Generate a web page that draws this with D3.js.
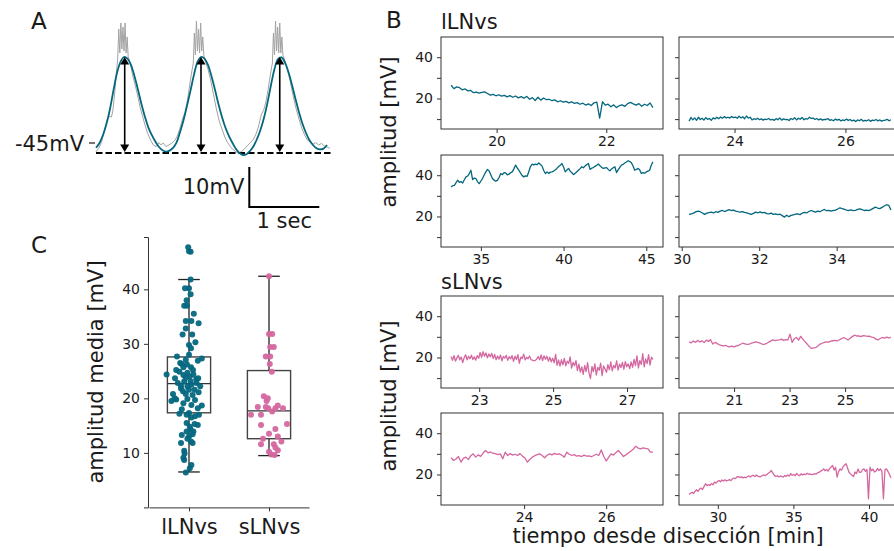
<!DOCTYPE html>
<html>
<head>
<meta charset="utf-8">
<script src="https://d3js.org/d3.v7.min.js"></script>
<style>
  body { margin: 0; background: #fff; }
  svg { display: block; font-family: "DejaVu Sans", sans-serif; }
</style>
</head>
<body>
<svg id="fig" width="894" height="551"></svg>
<script>
// ---------- Panel A: raw trace (gray) + fitted curve (teal), mV above baseline ----------
let blueStep = 0.05;
let blueV = [1.3, 2.5, 4.5, 7.3, 11, 15.7, 20, 22.8, 24, 23.6, 22.0, 19.2, 15.8, 12.2, 9.0, 6.3, 4.4, 2.8, 1.5, 0.7,
             0.35, 0.6, 1.3, 2.6, 5.2, 8.2, 11.8, 15.6, 19.6, 22.8, 24, 23.6, 22.0, 19.2, 15.8, 12.2, 9.0, 6.3, 4.2, 2.5,
             1.0, 0.0, -0.5, -0.3, 0.5, 1.7, 3.5, 5.8, 8.8, 12.6, 17, 21, 23.5, 23.9, 22.6, 20.2, 17.0, 13.5, 10.2, 7.3,
             5.0, 3.2, 2.0, 1.2, 0.9, 1.1, 2.0];
let grayT = [0, 0.04, 0.08, 0.12, 0.16, 0.19, 0.22, 0.24, 0.27, 0.29, 0.31, 0.325, 0.34, 0.355, 0.37, 0.385, 0.40, 0.415, 0.43, 0.445,
             0.46, 0.48, 0.50, 0.53, 0.56, 0.60, 0.63, 0.66, 0.70, 0.74, 0.78, 0.82, 0.86, 0.90, 0.93, 0.96, 1.00,
             1.04, 1.08, 1.12, 1.16, 1.20, 1.24, 1.27, 1.30, 1.33, 1.36, 1.39, 1.405, 1.42, 1.435, 1.45, 1.465, 1.48, 1.495, 1.51, 1.525,
             1.54, 1.56, 1.60, 1.64, 1.68, 1.72, 1.76, 1.80, 1.84, 1.88, 1.92, 1.96, 2.00, 2.04, 2.08, 2.12, 2.16,
             2.20, 2.24, 2.28, 2.32, 2.36, 2.40, 2.43, 2.46, 2.49, 2.52, 2.535, 2.55, 2.565, 2.58, 2.595, 2.61, 2.625, 2.64, 2.655,
             2.67, 2.70, 2.74, 2.78, 2.82, 2.86, 2.90, 2.94, 2.98, 3.02, 3.06, 3.10, 3.14, 3.18, 3.22, 3.26, 3.30, 3.34];
let grayV = [0.3, 1.2, 2.8, 5.6, 8.3, 9.2, 9.0, 10.5, 15.5, 20, 23.5, 31, 25, 32.5, 26, 31.5, 25.5, 32.5, 25, 29,
             24, 23, 21.5, 19, 17.0, 14, 11.5, 9.5, 7, 4.8, 3.2, 2.0, 1.6, 2.6, 2.0, 2.5, 1.6,
             2.0, 2.4, 3.0, 4.2, 6.2, 8.8, 10, 12.5, 16, 19.5, 22.5, 30, 24.5, 33, 25.5, 31, 25, 32.5, 25.5, 29,
             24.5, 23.0, 21, 18, 14.5, 11, 8, 6.0, 4, 2.6, 1.6, 0.8, 0.3, 0.0, 0.4, 1.0, 1.8,
             2.5, 3.2, 4.5, 6.5, 9.5, 11.0, 13, 16, 19.5, 22.5, 30, 24.5, 33, 25.5, 31.5, 25, 32.5, 25, 29,
             24.5, 23.0, 20.5, 17.5, 14, 11, 8.5, 6.2, 4.5, 3.2, 2.8, 2.2, 2.6, 2.0, 2.4, 1.8, 1.5, 1.2];
let arrowTimes = [0.41, 1.50, 2.625];
let arrowAmp = 24;

// ---------- Panel B: amplitude over time, one array per recording ----------
let lln1Span = [19.17, 22.85];
let lln1 = [26.4, 24.8, 25.6, 25.2, 24.2, 24.6, 23.7, 23.9, 22.8, 23.1, 22.6, 22.9, 23.2, 22.4, 21.6, 22.0, 21.3, 21.8, 21.1, 21.5,
            20.8, 21.4, 20.6, 21.2, 20.3, 20.9, 20.1, 21.0, 19.6, 20.4, 19.0, 20.6, 19.2, 20.2, 19.4, 19.6, 18.9, 19.3, 18.4, 18.9,
            18.2, 18.6, 17.9, 18.4, 17.6, 18.0, 17.2, 17.7, 16.8, 17.4, 16.6, 17.9, 18.2, 10.5, 18.4, 16.8, 17.2, 16.0, 16.9, 15.6,
            16.5, 16.9, 16.2, 17.5, 18.1, 17.4, 16.8, 17.5, 16.2, 17.2, 16.6, 17.8, 15.6];
let lln2Span = [23.18, 26.82];
let lln2 = [9.0, 10.8, 9.6, 10.6, 9.4, 10.9, 9.8, 10.4, 9.5, 10.7, 9.9, 10.3, 9.4, 10.6, 10.1, 10.9, 10.2, 11.0, 10.4, 11.2,
            10.6, 10.9, 10.5, 11.3, 10.7, 11.0, 10.4, 11.4, 10.6, 11.1, 10.2, 11.5, 10.5, 10.9, 9.6, 10.2, 9.8, 10.4, 9.7, 10.1,
            9.5, 10.0, 9.8, 10.3, 9.6, 9.9, 9.4, 10.2, 9.7, 10.6, 9.5, 10.1, 9.7, 9.9, 9.3, 10.3, 9.8, 10.7, 9.6, 10.4,
            9.9, 10.8, 9.7, 10.2, 10.0, 10.9, 10.3, 10.5, 9.8, 10.3, 9.6, 10.1, 9.5, 9.9, 9.8, 10.2, 9.4, 9.7, 9.2, 10.0,
            9.5, 9.9, 9.1, 9.6, 9.3, 10.0, 9.4, 9.8, 9.1, 9.5, 8.8, 9.6, 9.2, 9.9, 9.0, 9.4, 9.2, 9.7, 8.9, 9.5,
            9.3, 9.8, 9.1, 9.6, 9.0, 9.4, 9.5, 9.9, 9.2, 9.7];
let lln3Span = [33.2, 45.4];
let lln3 = [34.3, 34.9, 35.1, 36.4, 37.6, 36.5, 36.9, 36.2, 37.8, 39.2, 39.6, 40.8, 42.4, 37.9, 38.6, 38.4, 36.8, 35.9, 37.2, 38.4,
            40.1, 41.6, 42.8, 42.1, 40.2, 38.4, 37.6, 37.1, 37.5, 38.9, 40.8, 40.3, 41.2, 41.1, 40.2, 40.5, 41.3, 41.6, 43.2, 44.9,
            43.5, 42.4, 41.0, 39.8, 39.2, 39.7, 39.5, 41.8, 44.2, 45.4, 45.0, 45.4, 45.1, 46.0, 45.2, 44.4, 42.3, 40.8, 41.6, 40.9,
            41.5, 41.6, 42.0, 42.6, 43.3, 44.2, 44.8, 45.7, 44.0, 41.6, 42.5, 43.3, 42.0, 41.2, 40.3, 40.9, 41.7, 42.4, 43.2, 44.1,
            43.6, 44.5, 45.2, 45.7, 42.8, 43.4, 43.7, 44.3, 44.8, 45.4, 44.6, 43.9, 43.3, 43.6, 43.7, 42.8, 42.1, 43.0, 43.6, 44.1,
            41.3, 42.6, 43.8, 44.9, 45.3, 45.9, 46.4, 47.0, 46.6, 46.0, 44.5, 42.4, 42.8, 43.3, 42.6, 40.8, 41.3, 41.0, 41.6, 42.0,
            42.4, 44.8, 46.5];
let lln4Span = [30.19, 35.4];
let lln4 = [21.0, 21.3, 21.6, 22.2, 22.6, 22.3, 21.7, 21.0, 21.6, 21.9, 22.1, 21.7, 22.3, 22.0, 22.6, 22.9, 22.4, 22.8, 23.3, 22.9,
            23.1, 22.6, 22.3, 22.1, 22.4, 22.0, 21.7, 21.4, 21.0, 21.5, 22.1, 21.8, 22.2, 21.7, 22.0, 21.4, 21.3, 21.6, 21.0, 21.3,
            20.9, 21.1, 20.4, 19.7, 20.6, 19.9, 20.5, 20.8, 21.1, 21.3, 20.9, 21.6, 22.0, 21.7, 22.4, 22.9, 22.5, 22.1, 22.6, 22.3,
            22.9, 23.4, 22.8, 23.0, 22.6, 22.9, 23.1, 23.6, 24.2, 23.8, 23.5, 23.1, 22.9, 23.2, 22.8, 23.0, 23.4, 23.7, 23.3, 22.9,
            23.1, 22.8, 23.3, 23.9, 24.5, 24.1, 23.8, 24.4, 25.1, 25.7, 25.4, 23.2];
let sln1Span = [22.24, 27.7];
let sln1 = [20.5, 18.6, 20.9, 18.2, 19.8, 21.0, 18.9, 20.2, 17.5, 19.9, 21.3, 18.8, 20.6, 19.4, 21.1, 19.0, 20.3, 18.7, 20.9, 19.6,
            22.4, 20.1, 22.8, 20.6, 22.2, 19.8, 21.7, 20.3, 22.0, 19.5,
            21.5, 18.9, 20.7, 19.2, 21.2, 18.4, 20.5, 19.7, 21.0, 18.6, 20.4, 19.3, 20.9, 18.1, 20.6, 19.0, 21.4, 17.2, 20.2, 19.5,
            21.6, 18.8, 20.1, 19.4, 20.7,
            19.0, 18.7, 18.4, 18.6, 19.3, 20.4, 18.9, 21.2, 18.5, 20.8,
            19.1, 20.6, 18.2, 20.1, 17.9, 19.6, 17.4, 21.5, 16.2, 18.8,
            15.8, 18.9, 16.4, 19.6, 15.9, 18.2, 17.1, 20.3, 14.8, 17.6, 16.0, 18.5,
            13.6, 16.8, 12.9, 15.4, 11.8, 16.1, 13.2, 17.5, 12.4, 9.8, 15.6, 13.1, 16.9, 11.5, 15.2, 13.8, 17.3, 11.2, 15.9, 14.4,
            12.8, 16.5, 14.0, 17.8, 13.5, 16.2, 14.9, 18.4, 13.9, 16.8, 15.1, 17.6, 14.3, 18.0, 15.5, 16.9, 14.6, 17.9,
            15.2, 19.1, 16.0, 20.8, 14.9, 18.5, 16.6, 21.9, 15.4, 19.3, 17.0, 21.4, 16.3, 20.2, 19.0];
let sln2Span = [19.38, 26.65];
let sln2 = [27.6, 27.1, 28.0, 27.3, 28.3, 27.5, 28.1, 27.2, 28.4, 27.8, 28.6,
            26.5, 27.3, 26.8, 26.2, 25.8, 25.6, 25.9, 25.3, 25.2, 25.5, 25.1,
            25.6, 25.9, 26.4, 26.9, 26.6, 26.3, 26.5, 26.9, 27.2, 27.6, 27.3, 27.0, 26.5, 26.3, 26.8, 27.4, 27.9, 28.5, 28.2, 28.4,
            28.5, 28.9, 28.3,
            28.6, 28.5, 31.3, 27.3, 29.1, 29.7, 28.4, 30.2, 28.9, 27.6, 26.5, 25.3, 24.4, 24.6, 24.8, 25.6, 26.5, 26.9, 27.3, 27.6,
            27.4, 27.9, 28.1, 28.3, 28.0, 28.6, 29.1, 29.7, 29.2, 28.5, 29.3, 30.1, 30.8, 30.4, 30.5, 30.1, 30.6, 30.5, 30.2, 30.3,
            29.9, 29.7, 28.9, 28.5, 29.2, 29.7, 29.4, 29.9, 29.5, 29.7];
let sln3Span = [22.22, 27.14];
let sln3 = [28.1, 26.8, 27.5, 28.7, 26.0, 27.8, 28.4, 27.2, 29.1, 30.0, 28.4, 29.5, 28.8, 30.4, 31.6, 30.5, 30.9, 30.3, 30.1, 29.6,
            30.0, 27.6, 30.8, 29.2, 30.1, 29.4, 29.8, 29.2, 30.1, 28.9, 28.0, 26.0, 27.4, 28.4, 29.1, 29.6, 30.0, 29.2, 28.1, 29.3,
            30.0, 29.5, 30.2, 29.7, 30.0, 29.3, 28.4, 30.8, 29.8, 29.2, 29.6, 28.9, 29.1, 28.7, 29.4, 28.9, 29.0, 28.6, 29.2, 29.8,
            29.2, 31.9, 28.8, 26.5, 28.3, 30.0, 29.4, 30.6, 31.6, 30.2, 28.7, 29.5, 30.4, 31.3, 32.2, 33.7, 32.8, 32.4, 32.9, 32.6,
            32.4, 30.8, 30.8];
let sln4Span = [28.1, 41.45];
let sln4 = [10.3, 10.9, 11.4, 10.8, 11.9, 12.6, 11.8, 12.9, 13.4, 12.7, 14.2, 15.5, 14.6, 15.1, 14.7, 15.6, 15.0, 16.3, 15.8, 16.6,
            17.1, 16.5, 17.3, 16.8, 17.4, 16.9, 17.1, 17.6, 17.0, 17.9, 18.3, 18.0, 18.8, 19.0, 18.5, 18.9, 18.3, 18.7, 18.4, 18.9,
            19.3, 18.8, 19.4, 19.5, 19.0, 19.7, 19.2, 18.9, 19.0, 19.5, 19.8, 19.4, 20.0, 20.6, 21.1, 21.9, 20.8, 19.6, 19.0, 19.4,
            18.8, 19.3, 18.9, 18.7, 19.5, 19.1, 19.8, 19.2, 20.4, 19.6, 20.0, 19.4, 20.5, 19.7, 19.5, 20.3, 19.8, 20.2, 20.0, 20.6,
            20.1, 20.3, 19.9, 20.0, 20.4, 20.2, 20.8, 21.1, 21.6, 22.0, 22.7, 21.8, 22.4, 21.6, 22.9, 23.6, 24.4, 22.1, 23.5, 18.7,
            21.4, 22.7, 22.1, 23.8, 24.6, 25.2, 23.1, 21.1, 20.3, 19.6, 19.0, 21.2, 20.4, 22.7, 21.0, 21.1, 22.3, 22.7, 21.5, 22.4,
            8.2, 23.5, 21.8, 22.6, 21.2, 21.6, 22.9, 21.9, 22.7, 21.4, 8.2, 22.3, 22.7, 21.5, 20.1, 18.4];
let ampDomain = [5.2, 49.8];
let ampTicks = [10, 20, 30, 40];

// ---------- Panel C: mean amplitude per cell (value, jitter) + box stats ----------
let cats = ["lLNvs", "sLNvs"];
let llnMean = [47.7, 47.0, 46.9, 41.8, 40.2, 40.2, 39.1, 38.0, 37.0, 37.0, 35.5, 34.2, 34.2, 33.8, 32.8, 31.7, 31.7, 30.3, 29.2, 28.0,
               27.7, 27.3, 26.9, 26.5, 26.2, 25.7, 25.7, 25.2, 25.2, 24.4, 24.7, 23.7, 23.5, 24.0, 23.1, 22.3, 22.2, 22.5, 22.2, 21.6,
               21.8, 21.3, 21.6, 21.1, 20.8, 20.8, 19.8, 19.5, 19.9, 19.7, 18.7, 18.8, 18.0, 17.2, 17.3, 17.0, 16.5, 15.3, 15.1, 14.3,
               13.9, 13.3, 13.4, 12.6, 12.1, 11.8, 10.4, 9.1, 8.7, 7.8, 7.2, 6.4, 24.3, 24.4, 23.8, 22.8, 22.8, 20.6, 20.0, 19.1,
               18.2, 17.0, 16.7, 15.5, 14.8, 13.9, 13.0, 11.8, 9.9, 26.3, 29.8, 27.1, 24.9, 23.7, 23.1];
let llnJit = [-0.01, 0.00, 0.02, 0.02, -0.05, 0.00, 0.02, -0.03, -0.06, -0.025, 0.06, -0.04, 0.03, 0.12, -0.04, -0.08, 0.04, 0.08, 0.025, 0.00,
              -0.15, 0.16, 0.11, -0.11, -0.025, -0.07, 0.025, -0.16, 0.05, -0.28, -0.02, -0.175, 0.09, 0.01, -0.06, -0.10, 0.14, 0.03, -0.02, 0.00,
              -0.10, -0.075, 0.07, 0.12, -0.20, -0.04, -0.16, -0.22, -0.02, 0.075, 0.16, 0.03, -0.09, -0.12, 0.00, 0.125, 0.03, 0.07, 0.11, 0.02,
              -0.03, -0.09, 0.045, -0.02, 0.025, -0.10, -0.06, -0.07, -0.06, 0.03, 0.01, -0.04, -0.07, 0.055, -0.04, 0.095, -0.14, 0.045, -0.18, -0.07,
              0.11, -0.03, 0.075, -0.03, 0.01, 0.055, 0.00, 0.045, -0.055, -0.09, 0.00, -0.04, -0.12, 0.115, 0.02];
let slnMean = [42.4, 31.8, 31.8, 29.4, 29.4, 27.7, 27.7, 26.3, 24.9, 20.4, 19.5, 18.4, 18.4, 18.2, 18.2, 18.2, 17.0, 17.0, 17.6, 18.7,
               15.3, 15.1, 14.4, 13.5, 13.0, 12.1, 12.6, 11.6, 11.6, 11.0, 10.2, 10.5, 9.6, 9.7, 20.0];
let slnJit = [0.00, 0.00, 0.04, 0.015, 0.06, -0.04, 0.015, 0.01, 0.035, -0.065, -0.03, -0.14, -0.04, -0.01, 0.08, 0.175, -0.225, -0.10, 0.04, 0.11,
              0.225, -0.10, 0.08, 0.00, 0.11, 0.155, -0.075, -0.10, 0.06, 0.08, 0.00, 0.11, 0.07, 0.03, -0.015];
// [lower whisker, Q1, median, Q3, upper whisker]
let llnBox = [6.5, 17.35, 22.7, 27.6, 41.8];
let slnBox = [9.5, 12.6, 17.7, 25.1, 42.4];
let meanTicks = [10, 20, 30, 40];

const teal = "#04677f";
const pink = "#d4679f";
const ink = "#1a1a1a";
const svg = d3.select("#fig");

// ================= Panel A =================
const xA = d3.scaleLinear().domain([0, 3.35]).range([96, 330.5]);
const yA = d3.scaleLinear().domain([0, 10]).range([153, 113]);

const gA = svg.append("g");
const grayPts = grayT.map((t, i) => [t, grayV[i]]);
gA.append("path").datum(grayPts)
  .attr("fill", "none").attr("stroke", "#a3a3a3").attr("stroke-width", 1)
  .attr("d", d3.line().x(d => xA(d[0])).y(d => yA(d[1])));

gA.append("line").attr("x1", xA(0)).attr("x2", xA(3.35))
  .attr("y1", yA(0)).attr("y2", yA(0))
  .attr("stroke", "#000").attr("stroke-width", 2).attr("stroke-dasharray", "6.5,3");

const bluePts = blueV.map((v, i) => [i * blueStep, v]);
gA.append("path").datum(bluePts)
  .attr("fill", "none").attr("stroke", teal).attr("stroke-width", 1.8)
  .attr("d", d3.line().curve(d3.curveCatmullRom).x(d => xA(d[0])).y(d => yA(d[1])));

// double headed arrows
arrowTimes.forEach(t => {
  const x = xA(t), top = yA(arrowAmp), bot = yA(0);
  gA.append("line").attr("x1", x).attr("x2", x).attr("y1", top + 5).attr("y2", bot - 5)
    .attr("stroke", "#000").attr("stroke-width", 1.6);
  gA.append("path").attr("d", `M${x},${top} L${x - 4.5},${top + 7.5} L${x + 4.5},${top + 7.5} Z`).attr("fill", "#000");
  gA.append("path").attr("d", `M${x},${bot - 1} L${x - 4.5},${bot - 8.5} L${x + 4.5},${bot - 8.5} Z`).attr("fill", "#000");
});

// -45mV mark
gA.append("line").attr("x1", xA(0) - 7).attr("x2", xA(0) - 1).attr("y1", yA(2.5)).attr("y2", yA(2.5))
  .attr("stroke", ink).attr("stroke-width", 1.2);
gA.append("text").attr("x", xA(0) - 12).attr("y", yA(2.5) + 7.5).attr("text-anchor", "end")
  .attr("font-size", 21).attr("fill", ink).text("-45mV");

// scale bar: 10 mV, 1 sec
const sbT = 2.19, sbV = -13.5;
gA.append("path")
  .attr("d", `M${xA(sbT)},${yA(sbV + 10)} L${xA(sbT)},${yA(sbV)} L${xA(sbT + 1)},${yA(sbV)}`)
  .attr("fill", "none").attr("stroke", "#000").attr("stroke-width", 2);
gA.append("text").attr("x", xA(sbT) - 5).attr("y", yA(sbV + 10) + 27).attr("text-anchor", "end")
  .attr("font-size", 21).attr("fill", ink).text("10mV");
gA.append("text").attr("x", xA(sbT + 0.5)).attr("y", yA(sbV) + 21).attr("text-anchor", "middle")
  .attr("font-size", 21).attr("fill", ink).text("1 sec");

// ================= Panel B =================
const colLeft = [441, 679];
const rowTop = [37, 155, 296, 413];
const boxW = 222, boxH = 92;

const traces = [
  { vals: lln1, span: lln1Span, xt: [20, 22], col: 0, row: 0, color: teal },
  { vals: lln2, span: lln2Span, xt: [24, 26], col: 1, row: 0, color: teal },
  { vals: lln3, span: lln3Span, xt: [35, 40, 45], col: 0, row: 1, color: teal },
  { vals: lln4, span: lln4Span, xt: [30, 32, 34], col: 1, row: 1, color: teal },
  { vals: sln1, span: sln1Span, xt: [23, 25, 27], col: 0, row: 2, color: pink },
  { vals: sln2, span: sln2Span, xt: [21, 23, 25], col: 1, row: 2, color: pink },
  { vals: sln3, span: sln3Span, xt: [24, 26], col: 0, row: 3, color: pink },
  { vals: sln4, span: sln4Span, xt: [30, 35, 40], col: 1, row: 3, color: pink }
];

function styleAxis(g) {
  g.attr("font-size", null).attr("font-family", null);
  g.select(".domain").remove();
  g.selectAll(".tick line").attr("stroke", "#333").attr("stroke-width", 1);
  g.selectAll(".tick text").attr("fill", ink).attr("font-size", 14);
}

traces.forEach(tr => {
  const left = colLeft[tr.col], top = rowTop[tr.row];
  const n = tr.vals.length;
  const t0 = tr.span[0], t1 = tr.span[1];
  const pad = (t1 - t0) * 0.05;
  const x = d3.scaleLinear().domain([t0 - pad, t1 + pad]).range([left, left + boxW]);
  const y = d3.scaleLinear().domain(ampDomain).range([top + boxH, top]);
  const g = svg.append("g");
  const pts = tr.vals.map((v, i) => [t0 + (t1 - t0) * i / (n - 1), v]);
  g.append("path").datum(pts)
    .attr("fill", "none").attr("stroke", tr.color).attr("stroke-width", 1.3)
    .attr("stroke-linejoin", "round")
    .attr("d", d3.line().x(d => x(d[0])).y(d => y(d[1])));
  g.append("g").attr("transform", `translate(0,${top + boxH})`)
    .call(d3.axisBottom(x).tickValues(tr.xt).tickFormat(d3.format("d")).tickSize(4).tickPadding(3))
    .call(styleAxis);
  g.append("g").attr("transform", `translate(${left},0)`)
    .call(d3.axisLeft(y).tickValues(ampTicks).tickSize(4).tickPadding(4)
      .tickFormat(d => (tr.col === 0 && (d === 20 || d === 40)) ? d : ""))
    .call(styleAxis);
  g.append("rect").attr("x", left).attr("y", top).attr("width", boxW).attr("height", boxH)
    .attr("fill", "none").attr("stroke", "#333").attr("stroke-width", 1);
});

svg.append("text").attr("x", 441).attr("y", 29).attr("font-size", 21).attr("fill", ink).text("lLNvs");
svg.append("text").attr("x", 441).attr("y", 289).attr("font-size", 21).attr("fill", ink).text("sLNvs");
svg.append("text").attr("transform", "translate(396,132) rotate(-90)").attr("text-anchor", "middle")
  .attr("font-size", 21).attr("fill", ink).text("amplitud [mV]");
svg.append("text").attr("transform", "translate(396,396) rotate(-90)").attr("text-anchor", "middle")
  .attr("font-size", 21).attr("fill", ink).text("amplitud [mV]");
svg.append("text").attr("x", 668).attr("y", 543).attr("text-anchor", "middle")
  .attr("font-size", 21).attr("fill", ink).text("tiempo desde disección [min]");

// ================= Panel C =================
const xC = d3.scaleLinear().domain([-0.5, 1.5]).range([149, 309]);
const yC = d3.scaleLinear().domain([0, 49.6]).range([507.4, 237]);
const gC = svg.append("g");

const boxes = [
  { stats: llnBox, pos: 0 },
  { stats: slnBox, pos: 1 }
];
const halfW = 0.27;
boxes.forEach(b => {
  const s = b.stats, cx = xC(b.pos);
  const x0 = xC(b.pos - halfW), x1 = xC(b.pos + halfW);
  const capL = xC(b.pos - halfW / 2), capR = xC(b.pos + halfW / 2);
  gC.append("line").attr("x1", cx).attr("x2", cx).attr("y1", yC(s[0])).attr("y2", yC(s[1]))
    .attr("stroke", "#222").attr("stroke-width", 1.3);
  gC.append("line").attr("x1", cx).attr("x2", cx).attr("y1", yC(s[3])).attr("y2", yC(s[4]))
    .attr("stroke", "#222").attr("stroke-width", 1.3);
  gC.append("line").attr("x1", capL).attr("x2", capR).attr("y1", yC(s[0])).attr("y2", yC(s[0]))
    .attr("stroke", "#222").attr("stroke-width", 1.3);
  gC.append("line").attr("x1", capL).attr("x2", capR).attr("y1", yC(s[4])).attr("y2", yC(s[4]))
    .attr("stroke", "#222").attr("stroke-width", 1.3);
  gC.append("rect").attr("x", x0).attr("y", yC(s[3])).attr("width", x1 - x0).attr("height", yC(s[1]) - yC(s[3]))
    .attr("fill", "none").attr("stroke", "#444").attr("stroke-width", 1.4);
  gC.append("line").attr("x1", x0).attr("x2", x1).attr("y1", yC(s[2])).attr("y2", yC(s[2]))
    .attr("stroke", "#333").attr("stroke-width", 1.4);
});

const dotsL = llnMean.map((v, i) => ({ pos: 0 + llnJit[i], v }));
const dotsS = slnMean.map((v, i) => ({ pos: 1 + slnJit[i], v }));
gC.selectAll(".dl").data(dotsL).enter().append("circle")
  .attr("cx", d => xC(d.pos)).attr("cy", d => yC(d.v)).attr("r", 3)
  .attr("fill", teal).attr("fill-opacity", 0.95);
gC.selectAll(".ds").data(dotsS).enter().append("circle")
  .attr("cx", d => xC(d.pos)).attr("cy", d => yC(d.v)).attr("r", 3)
  .attr("fill", pink).attr("fill-opacity", 0.95);

gC.append("g").attr("transform", "translate(148,0)")
  .call(d3.axisLeft(yC).tickValues(meanTicks).tickSize(4).tickPadding(4))
  .call(g => {
    g.attr("font-size", null).attr("font-family", null);
    g.select(".domain").attr("stroke", "#333");
    g.selectAll(".tick line").attr("stroke", "#333");
    g.selectAll(".tick text").attr("fill", ink).attr("font-size", 14);
  });
gC.append("g").attr("transform", "translate(0,507.4)")
  .call(d3.axisBottom(xC).tickValues([0, 1]).tickFormat(i => cats[i]).tickSize(4).tickSizeOuter(0).tickPadding(8))
  .call(g => {
    g.attr("font-size", null).attr("font-family", null);
    g.select(".domain").attr("stroke", "#333");
    g.selectAll(".tick line").attr("stroke", "#333");
    g.selectAll(".tick text").attr("fill", ink).attr("font-size", 21);
  });
gC.append("text").attr("transform", "translate(103,372) rotate(-90)").attr("text-anchor", "middle")
  .attr("font-size", 21).attr("fill", ink).text("amplitud media [mV]");

// panel letters
svg.append("text").attr("x", 31).attr("y", 29).attr("font-size", 23).attr("fill", ink).text("A");
svg.append("text").attr("x", 386).attr("y", 28).attr("font-size", 23).attr("fill", ink).text("B");
svg.append("text").attr("x", 31).attr("y", 253).attr("font-size", 23).attr("fill", ink).text("C");
</script>
</body>
</html>
